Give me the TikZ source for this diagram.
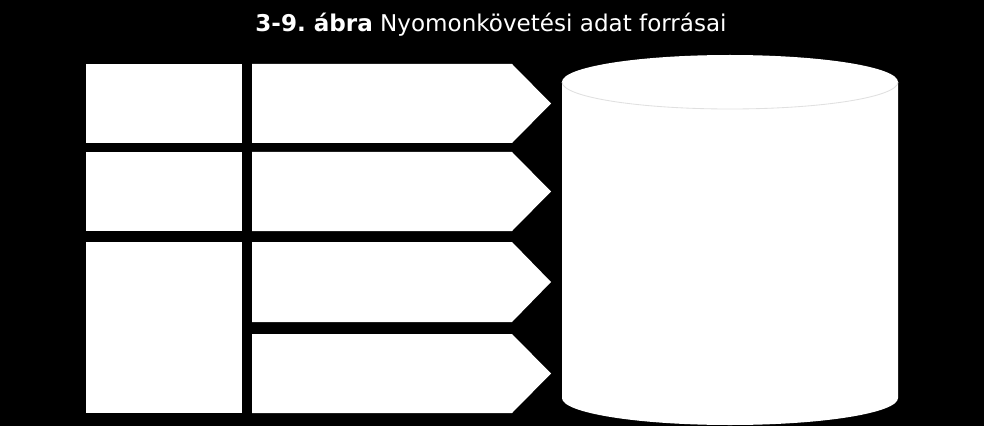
\documentclass[tikz,border=0pt]{standalone}
\usepackage{fontspec}
\setmainfont{DejaVu Sans}
\begin{document}
\begin{tikzpicture}[x=0.025cm, y=-0.025cm]
    \fill[black] (0,0) rectangle (984,426);
    % left column
    \foreach \t/\b in {64/143, 152/231, 242/413} {
        \fill[white] (86,\t) rectangle (242,\b);
    };
    % arrows
    \foreach \t/\b in {64/143, 152/231, 242/322, 334/413} {
        \fill[white] (252,\t) -- (512,\t) -- (551,{(\t+\b)/2}) -- (512,\b) -- (252,\b) -- cycle;
    };
    % cylinder
    \fill[white] (562,82) -- (562,398) arc[start angle=180, end angle=0, x radius=168, y radius=27]
        -- (898,82) arc[start angle=0, end angle=-180, x radius=168, y radius=27] -- cycle;
    \draw[black!12, line width=0.6pt] (562,82) arc[start angle=180, end angle=0, x radius=168, y radius=27];
    \node[text=white, anchor=base, inner sep=0pt, font=\fontsize{16.4}{20}\selectfont] (title) at (491,32) {\textbf{3-9.\ ábra} Nyomonkövetési adat forrásai};
\end{tikzpicture}
\end{document}
